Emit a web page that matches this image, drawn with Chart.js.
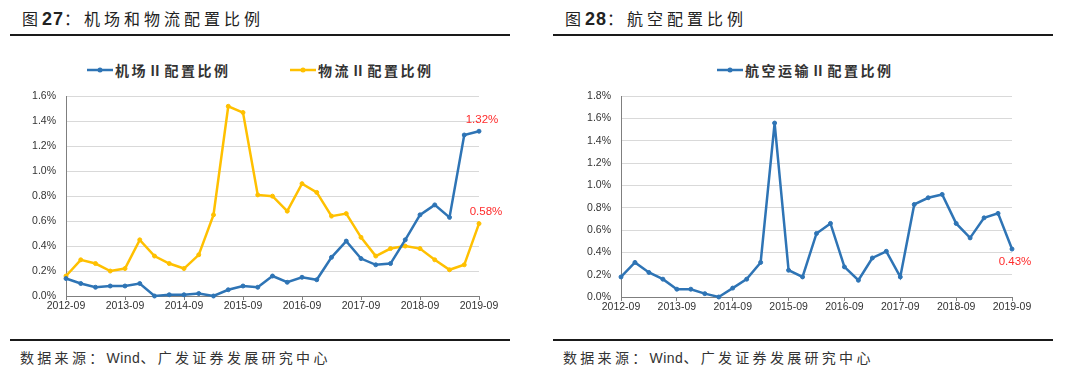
<!DOCTYPE html>
<html lang="zh-CN">
<head>
<meta charset="utf-8">
<script src="https://cdn.jsdelivr.net/npm/chart.js@4"></script>
<style>
  body { margin:0; width:1080px; height:372px; background:#fff; overflow:hidden; position:relative;
         font-family:"Noto Sans CJK SC", sans-serif; }
  .ttl  { position:absolute; top:6px; font-size:16px; color:#222; letter-spacing:4px; line-height:24px; white-space:nowrap; }
  .ttl b { font-family:"Liberation Sans", Arial, sans-serif; font-size:18px; font-weight:700; letter-spacing:1px; }
  .rule { position:absolute; height:2px; background:#1a1a1a; }
  .src  { position:absolute; top:348px; font-size:14px; color:#333; letter-spacing:3.3px; line-height:18px; white-space:nowrap; }
  .src span { font-family:"Liberation Sans", Arial, sans-serif; letter-spacing:0.5px; }
  .lg   { position:absolute; top:61px; display:flex; align-items:center; font-size:14px; font-weight:700; color:#333;
          letter-spacing:2.5px; line-height:18px; white-space:nowrap; }
  .lg svg { margin-right:2px; }
  .cv   { position:absolute; top:80px; height:250px; }
</style>
</head>
<body>
<div class="ttl" style="left:22px">图<b>27</b>：机场和物流配置比例</div>
<div class="rule" style="left:10px;width:500px;top:34px"></div>
<div id="lg1"></div>
<div class="cv" style="left:0;width:520px"><canvas id="c1"></canvas></div>
<div class="rule" style="left:10px;width:500px;top:339px"></div>
<div class="src" style="left:20px">数据来源：<span>Wind</span>、广发证券发展研究中心</div>

<div class="ttl" style="left:565px">图<b>28</b>：航空配置比例</div>
<div class="rule" style="left:553px;width:500px;top:34px"></div>
<div id="lg2"></div>
<div class="cv" style="left:555px;width:500px"><canvas id="c2"></canvas></div>
<div class="rule" style="left:553px;width:500px;top:339px"></div>
<div class="src" style="left:563px">数据来源：<span>Wind</span>、广发证券发展研究中心</div>

<script>
// 季度 2012-09 ~ 2019-09, 配置比例 (%)
const QUARTERS = [
  '2012-09','2012-12','2013-03','2013-06','2013-09','2013-12','2014-03','2014-06',
  '2014-09','2014-12','2015-03','2015-06','2015-09','2015-12','2016-03','2016-06',
  '2016-09','2016-12','2017-03','2017-06','2017-09','2017-12','2018-03','2018-06',
  '2018-09','2018-12','2019-03','2019-06','2019-09',
];
const AIRPORT   = [0.14,0.10,0.07,0.08,0.08,0.10,0.00,0.01,0.01,0.02,0.00,0.05,0.08,0.07,0.16,0.11,
                   0.15,0.13,0.31,0.44,0.30,0.25,0.26,0.45,0.65,0.73,0.63,1.29,1.32];
const LOGISTICS = [0.16,0.29,0.26,0.20,0.22,0.45,0.32,0.26,0.22,0.33,0.65,1.52,1.47,0.81,0.80,0.68,
                   0.90,0.83,0.64,0.66,0.47,0.32,0.38,0.40,0.38,0.29,0.21,0.25,0.58];
const AVIATION  = [0.18,0.31,0.22,0.16,0.07,0.07,0.03,0.00,0.08,0.16,0.31,1.56,0.24,0.18,0.57,0.66,
                   0.27,0.15,0.35,0.41,0.18,0.83,0.89,0.92,0.66,0.53,0.71,0.75,0.43];
const Y_TICKS_1 = [0, 0.2, 0.4, 0.6, 0.8, 1.0, 1.2, 1.4, 1.6];
const Y_TICKS_2 = [0, 0.2, 0.4, 0.6, 0.8, 1.0, 1.2, 1.4, 1.6, 1.8];

const BLUE = '#2e74b5', GOLD = '#ffc000';
const AXIS = '#7f7f7f', GRID = '#d9d9d9', TXT = '#333333';
const TICK_FONT = { family: '"Liberation Sans", Arial, sans-serif', size: 10.5 };

// 末值标注 (红字)
const endLabel = {
  id: 'endLabel',
  afterDatasetsDraw(chart) {
    const ctx = chart.ctx;
    chart.data.datasets.forEach((ds, i) => {
      if (!ds.endLabel) return;
      const pts = chart.getDatasetMeta(i).data;
      const pt = pts[pts.length - 1];
      const v = ds.data[ds.data.length - 1];
      ctx.save();
      ctx.font = '11.5px "Liberation Sans", Arial, sans-serif';
      ctx.fillStyle = '#ff2b2b';
      ctx.textAlign = 'center';
      ctx.textBaseline = 'middle';
      ctx.fillText(v.toFixed(2) + '%', pt.x + ds.endLabel.dx, pt.y + ds.endLabel.dy);
      ctx.restore();
    });
  }
};

function series(label, data, color, lbl) {
  return {
    label, data,
    borderColor: color, backgroundColor: color,
    borderWidth: 2.5, pointRadius: 2, pointBorderWidth: 1,
    pointBackgroundColor: color, pointBorderColor: color,
    tension: 0, clip: false, endLabel: lbl,
  };
}

function legendHtml(el, items, lefts) {
  el.innerHTML = items.map((s, k) => `
    <div class="lg" style="left:${lefts[k]}px">
      <svg width="26" height="8"><line x1="0" y1="4" x2="26" y2="4" stroke="${s.borderColor}" stroke-width="2.5"/>
      <circle cx="13" cy="4" r="2.5" fill="${s.borderColor}"/></svg>${s.label}</div>`).join('');
}

function makeChart(id, datasets, yTicks, padRight, padBottom) {
  return new Chart(document.getElementById(id), {
    type: 'line',
    data: { labels: QUARTERS, datasets },
    plugins: [endLabel],
    options: {
      responsive: true, maintainAspectRatio: false, animation: false,
      layout: { padding: { top: 16, right: padRight, bottom: padBottom, left: 0 } },
      plugins: { legend: { display: false }, tooltip: { enabled: false } },
      scales: {
        x: {
          offset: false,
          afterFit: s => { s.height = 20; },
          grid: { drawOnChartArea: false, tickLength: 4,
                  tickColor: c => (c.index % 4 === 0 ? AXIS : 'rgba(0,0,0,0)') },
          border: { color: AXIS, width: 1 },
          ticks: { autoSkip: false, maxRotation: 0, padding: 0, color: TXT, font: TICK_FONT,
                   callback: (v, i) => (i % 4 === 0 ? QUARTERS[i] : '') },
        },
        y: {
          min: yTicks[0], max: yTicks[yTicks.length - 1],
          afterFit: s => { s.width = 66; },
          afterBuildTicks: s => { s.ticks = yTicks.map(v => ({ value: v })); },
          grid: { color: GRID, drawTicks: false },
          border: { color: AXIS, width: 1 },
          ticks: { padding: 10, color: TXT, font: TICK_FONT, callback: v => v.toFixed(1) + '%' },
        },
      },
    },
  });
}

const ds1 = [
  series('机场Ⅱ配置比例', AIRPORT,   BLUE, { dx: 3, dy: -11 }),
  series('物流Ⅱ配置比例', LOGISTICS, GOLD, { dx: 7, dy: -12 }),
];
const ds2 = [
  series('航空运输Ⅱ配置比例', AVIATION, BLUE, { dx: 3, dy: 13 }),
];
legendHtml(document.getElementById('lg1'), ds1, [87, 290]);
legendHtml(document.getElementById('lg2'), ds2, [717]);
makeChart('c1', ds1, Y_TICKS_1, 41, 14);
makeChart('c2', ds2, Y_TICKS_2, 43, 13);
</script>
</body>
</html>
